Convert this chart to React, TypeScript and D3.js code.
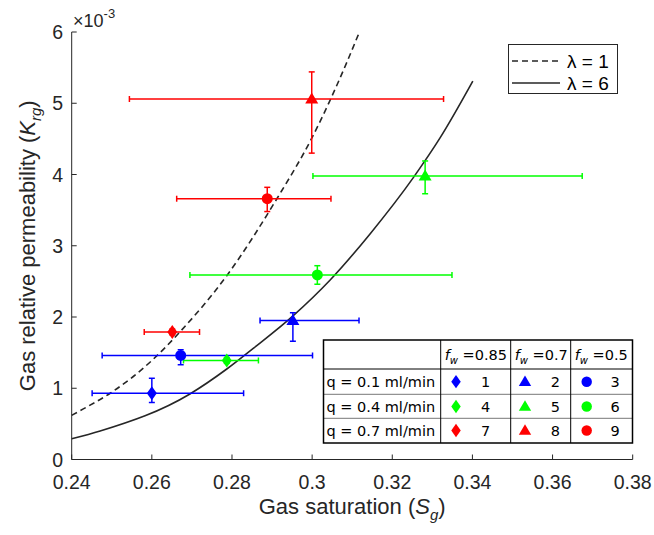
import * as d3 from 'd3';

// measured points (Sg, Krg x 1e-3), numbered 1..9 as in the table
const sg = [0.2600, 0.2952, 0.2672, 0.2787, 0.3282, 0.3013, 0.2651, 0.2999, 0.2888];
const krg = [0.93, 1.95, 1.46, 1.39, 3.98, 2.59, 1.79, 5.06, 3.66];
const sgLow = [0.2451, 0.2870, 0.2476, 0.2679, 0.3002, 0.2695, 0.2581, 0.2544, 0.2662];
const sgHigh = [0.2829, 0.3117, 0.3001, 0.2866, 0.3674, 0.3349, 0.2719, 0.3328, 0.3047];
const krgLow = [0.80, 1.66, 1.33, 1.35, 3.73, 2.46, 1.75, 4.30, 3.48];
const krgHigh = [1.14, 2.06, 1.54, 1.43, 4.19, 2.72, 1.83, 5.44, 3.82];

// model curves
const lambda1Sg = [0.240, 0.2429, 0.2496, 0.2604, 0.2670, 0.2787, 0.2912, 0.3000, 0.3043, 0.3087, 0.3118];
const lambda1Krg = [0.62, 0.71, 0.93, 1.41, 1.79, 2.58, 3.66, 4.52, 5.02, 5.58, 6.00];
const lambda6Sg = [0.240, 0.2471, 0.2695, 0.2787, 0.2853, 0.2953, 0.3045, 0.3145, 0.3253, 0.3320, 0.3401];
const lambda6Krg = [0.29, 0.40, 0.92, 1.27, 1.56, 2.02, 2.52, 3.17, 3.96, 4.52, 5.31];

// table / legend
const rateLabels = ['q = 0.1 ml/min', 'q = 0.4 ml/min', 'q = 0.7 ml/min'];
const fwLabels = ['0.85', '0.7', '0.5'];
const rowColors = ['#0000ff', '#00ff00', '#ff0000'];
const colMarkers = ['diamond', 'triangle', 'circle'];
const legendLabels = ['\u03bb = 1', '\u03bb = 6'];

const xTicks = [0.24, 0.26, 0.28, 0.3, 0.32, 0.34, 0.36, 0.38];
const xTickLabels = ['0.24', '0.26', '0.28', '0.3', '0.32', '0.34', '0.36', '0.38'];
const yTicks = [0, 1, 2, 3, 4, 5, 6];

const W = 654;
const H = 535;
const axisColor = '#262626';
const font = '"Liberation Sans", Arial, sans-serif';
const tableFont = '"DejaVu Sans", Verdana, sans-serif';

const x = d3.scaleLinear().domain([0.24, 0.38]).range([71.7, 632.7]);
const y = d3.scaleLinear().domain([0, 6]).range([459.5, 32]);

function markerPath(kind: string, cx: number, cy: number, s = 1) {
  if (kind === 'diamond') {
    const w = 5 * s, h = 7 * s;
    return `M${cx},${cy - h}L${cx + w},${cy}L${cx},${cy + h}L${cx - w},${cy}Z`;
  }
  if (kind === 'triangle') {
    const w = 6.5 * s;
    return `M${cx},${cy - 6.5 * s}L${cx + w},${cy + 4.5 * s}L${cx - w},${cy + 4.5 * s}Z`;
  }
  const r = 5.5 * s;
  return `M${cx - r},${cy}a${r},${r} 0 1,0 ${2 * r},0a${r},${r} 0 1,0 ${-2 * r},0Z`;
}

export default function App() {
  const line = d3.line<[number, number]>()
    .x(d => x(d[0]))
    .y(d => y(d[1]))
    .curve(d3.curveMonotoneX);

  const dashed = line(lambda1Sg.map((v, i) => [v, lambda1Krg[i]]));
  const solid = line(lambda6Sg.map((v, i) => [v, lambda6Krg[i]]));

  const x0 = x.range()[0];
  const x1 = x.range()[1];
  const yBottom = y(0);
  const yTop = y(6);
  const cap = 3;

  // table geometry
  const tL = 323.5, tR = 632.5, tT = 340, tB = 443;
  const colX = [440.7, 510.7, 570.7];
  const rowY = [369, 394.3, 418.3];
  const rowMid = [381.7, 406.5, 430.5];

  return (
    <svg width={W} height={H} style={{ position: 'absolute', left: 0, top: 0, background: '#fff' }}>
      <rect width={W} height={H} fill="#fff" />

      {/* axes */}
      <g stroke={axisColor} strokeWidth={1} fill="none">
        <line x1={x0} x2={x1} y1={yBottom} y2={yBottom} />
        <line x1={x0} x2={x0} y1={yBottom} y2={yTop} />
        {xTicks.map(t => (
          <line key={t} x1={x(t)} x2={x(t)} y1={yBottom} y2={yBottom - 5} />
        ))}
        {yTicks.map(t => (
          <line key={t} x1={x0} x2={x0 + 5} y1={y(t)} y2={y(t)} />
        ))}
      </g>
      <g fontFamily={font} fontSize={19.5} fill={axisColor}>
        {xTicks.map((t, i) => (
          <text key={t} x={x(t)} y={489} textAnchor="middle">{xTickLabels[i]}</text>
        ))}
        {yTicks.map(t => (
          <text key={t} x={63} y={y(t) + 7} textAnchor="end">{t}</text>
        ))}
        <text x={73} y={27} fontSize={18}>
          ×10<tspan fontSize={13} dy={-9}>-3</tspan>
        </text>
        <text x={(x0 + x1) / 2} y={514} textAnchor="middle" fontSize={22}>
          Gas saturation (<tspan fontStyle="italic">S</tspan>
          <tspan fontStyle="italic" fontSize={15} dy={6}>g</tspan>
          <tspan dy={-6}>)</tspan>
        </text>
        <text transform={`translate(35,${(yBottom + yTop) / 2}) rotate(-90)`} textAnchor="middle" fontSize={22}>
          Gas relative permeability (<tspan fontStyle="italic">K</tspan>
          <tspan fontStyle="italic" fontSize={15} dy={6}>rg</tspan>
          <tspan dy={-6}>)</tspan>
        </text>
      </g>

      {/* model curves */}
      <path d={dashed ?? ''} fill="none" stroke={axisColor} strokeWidth={1.6} strokeDasharray="6,4" />
      <path d={solid ?? ''} fill="none" stroke={axisColor} strokeWidth={1.6} />

      {/* error bars */}
      {sg.map((v, i) => {
        const c = rowColors[Math.floor(i / 3)];
        const px = x(v), py = y(krg[i]);
        const xl = x(sgLow[i]), xh = x(sgHigh[i]);
        const yl = y(krgLow[i]), yh = y(krgHigh[i]);
        return (
          <g key={i} stroke={c} strokeWidth={1.5} fill="none">
            <line x1={xl} x2={xh} y1={py} y2={py} />
            <line x1={xl} x2={xl} y1={py - cap} y2={py + cap} />
            <line x1={xh} x2={xh} y1={py - cap} y2={py + cap} />
            <line x1={px} x2={px} y1={yl} y2={yh} />
            <line x1={px - cap} x2={px + cap} y1={yl} y2={yl} />
            <line x1={px - cap} x2={px + cap} y1={yh} y2={yh} />
          </g>
        );
      })}
      {sg.map((v, i) => (
        <path key={i} d={markerPath(colMarkers[i % 3], x(v), y(krg[i]))} fill={rowColors[Math.floor(i / 3)]} />
      ))}

      {/* legend */}
      <rect x={508.5} y={44.5} width={109} height={49} fill="#fff" stroke={axisColor} strokeWidth={1} />
      <line x1={512} x2={560} y1={61} y2={61} stroke={axisColor} strokeWidth={1.6} strokeDasharray="6,4" />
      <line x1={512} x2={560} y1={83} y2={83} stroke={axisColor} strokeWidth={1.6} />
      {legendLabels.map((l, i) => (
        <text key={l} x={567} y={[61, 83][i] + 7} fontFamily={font} fontSize={19} fill="#000">{l}</text>
      ))}

      {/* table */}
      <g>
        <rect x={tL} y={tT} width={tR - tL} height={tB - tT} fill="#fff" />
        <line x1={tL} x2={tR} y1={rowY[0]} y2={rowY[0]} stroke="#000" strokeWidth={1} />
        <line x1={tL} x2={tR} y1={rowY[1]} y2={rowY[1]} stroke="#777" strokeWidth={1} />
        <line x1={tL} x2={tR} y1={rowY[2]} y2={rowY[2]} stroke="#777" strokeWidth={1} />
        {colX.map(cx => (
          <line key={cx} x1={cx} x2={cx} y1={tT} y2={tB} stroke="#000" strokeWidth={1} />
        ))}
        <rect x={tL} y={tT} width={tR - tL} height={tB - tT} fill="none" stroke="#000" strokeWidth={1.5} />
        <g fontFamily={tableFont} fontSize={14.5} fill="#000">
          {fwLabels.map((f, j) => (
            <text key={f} x={colX[j] + 4} y={360}>
              <tspan fontStyle="italic">f</tspan>
              <tspan fontStyle="italic" fontSize={10} dy={4}>w</tspan>
              <tspan dy={-4}> =</tspan>{f}
            </text>
          ))}
          {rateLabels.map((r, i) => (
            <text key={r} x={tL + 3} y={rowMid[i] + 5}>{r}</text>
          ))}
          {rateLabels.map((_, i) =>
            fwLabels.map((__, j) => (
              <text key={`${i}-${j}`} x={[485.7, 555.3, 615][j]} y={rowMid[i] + 5} textAnchor="middle">
                {i * 3 + j + 1}
              </text>
            ))
          )}
        </g>
        {rateLabels.map((_, i) =>
          colMarkers.map((m, j) => (
            <path key={`${i}-${m}`} d={markerPath(m, [456, 525, 586.7][j], rowMid[i], 0.95)} fill={rowColors[i]} />
          ))
        )}
      </g>
    </svg>
  );
}
